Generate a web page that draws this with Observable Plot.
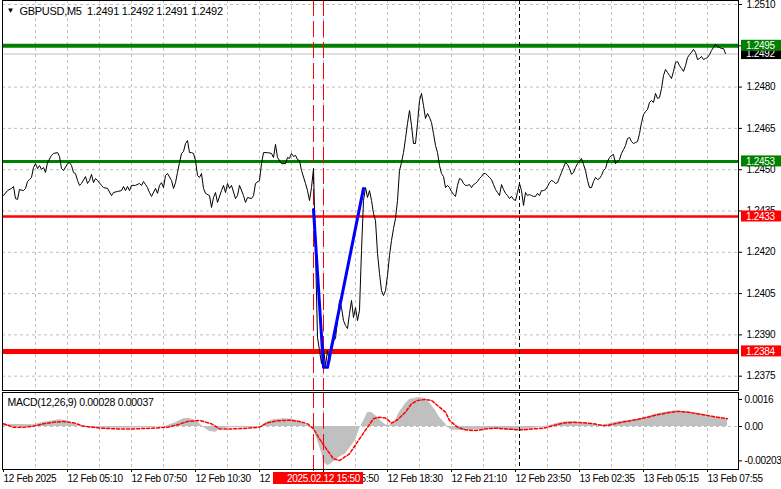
<!DOCTYPE html>
<html><head><meta charset="utf-8">
<script src="https://cdn.jsdelivr.net/npm/d3@7"></script>
<script src="https://cdn.jsdelivr.net/npm/@observablehq/plot@0.6"></script>
<style>
html,body{margin:0;padding:0;background:#fff;overflow:hidden;}
#chart{position:relative;width:781px;height:489px;overflow:hidden;}
#chart svg{display:block;}
</style></head><body><div id="chart"></div>
<script>
const FONT = '"Liberation Sans",Arial,sans-serif';
const FONT_SIZE = 10;
const LETTER = "-0.3px";

// ---- data ----
const titleText = "GBPUSD,M5\u00a0\u00a01.2491 1.2492 1.2491 1.2492";
const macdText = "MACD(12,26,9) 0.00028 0.00037";

const priceBar = [
0,2,4,5,6,7,8,10,11,12,
13,14,15,16,17,18,19,20,21,22,
24,25,27,28,29,30,32,33,34,35,
36,37,38,39,41,42,43,44,45,46,
47,49,50,52,54,55,57,59,60,61,
62,63,64,66,68,69,70,71,72,73,
74,76,77,78,79,80,81,82,84,85,
86,87,88,89,90,91,92,93,94,95,
96,97,98,99,100,101,103,104,105,106,
107,109,110,111,112,113,114,116,117,118,
120,121,122,124,125,126,128,129,130,132,
134,135,136,137,139,141,142,143,144,145,
146,147,148,149,151,152,153,154,155,156,
157,158,159,160,161,162,163,164,166,167,
168,169,170,171,172,173,174,175,176,177,
178,179,180,181,182,183,184,185,186,187,
188,189,190,191,192,193,194,195,196,197,
198,199,200,201,202,203,204,205,206,207,
208,209,210,211,212,213,214,215,216,217,
218,219,220,221,222,223,224,225,226,227,
228,229,230,231,232,233,234,235,236,237,
238,239,240,241,242,243,244,245,246,247,
248,249,250,251,252,253,254,255,256,257,
258,259,260,261,262,263,264,265,266,267,
268,269,270,271,272,273,274,275,276,277,
278,279,280,281,282,283,284,285,286,287,
288,289,290,291,292,293,294,295,296,297,
298,299,300,301,302,303,304,305,306,307,
308,309,310,311,312,313,314,315,316,317,
318,319,320,321,322,323,324,325,326,327,
328,329,330,331,332,333,334,335,336,337,
338,339,340,341,342,343,344,345,346,347,
348,349,350,351,352,353,354,355,356,357,
358,359,360,361];

const priceClose = [
1.24406,1.24424,1.24432,1.24439,1.24395,1.24392,1.24428,1.24424,1.24432,1.24457,
1.24464,1.24472,1.24508,1.24522,1.24504,1.24515,1.24501,1.24508,1.24490,1.24526,
1.24552,1.24559,1.24562,1.24548,1.24504,1.24497,1.24522,1.24526,1.24515,1.24490,
1.24486,1.24461,1.24443,1.24450,1.24475,1.24450,1.24461,1.24483,1.24453,1.24468,
1.24461,1.24443,1.24435,1.24432,1.24406,1.24417,1.24421,1.24424,1.24439,1.24424,
1.24439,1.24424,1.24443,1.24443,1.24450,1.24443,1.24457,1.24446,1.24435,1.24417,
1.24403,1.24432,1.24414,1.24443,1.24453,1.24435,1.24479,1.24486,1.24461,1.24432,
1.24453,1.24490,1.24526,1.24559,1.24566,1.24595,1.24606,1.24562,1.24562,1.24559,
1.24533,1.24479,1.24472,1.24486,1.24432,1.24414,1.24406,1.24363,1.24399,1.24417,
1.24381,1.24424,1.24443,1.24417,1.24450,1.24432,1.24443,1.24395,1.24406,1.24443,
1.24406,1.24381,1.24399,1.24395,1.24406,1.24450,1.24461,1.24522,1.24562,1.24562,
1.24559,1.24544,1.24592,1.24544,1.24522,1.24522,1.24544,1.24541,1.24559,1.24548,
1.24552,1.24537,1.24533,1.24497,1.24450,1.24424,1.24388,1.24435,1.24504,1.24207,
1.23891,1.23843,1.23796,1.23854,1.23789,1.23843,1.23800,1.23869,1.23887,1.23952,
1.24025,1.23999,1.23952,1.23934,1.23923,1.23978,1.24025,1.23963,1.23999,1.23952,
1.23989,1.24207,1.24388,1.24435,1.24399,1.24424,1.24388,1.24341,1.24315,1.24196,
1.24123,1.24061,1.24043,1.24061,1.24116,1.24188,1.24243,1.24286,1.24323,1.24388,
1.24497,1.24526,1.24562,1.24613,1.24668,1.24715,1.24661,1.24595,1.24595,1.24668,
1.24751,1.24777,1.24733,1.24686,1.24704,1.24690,1.24671,1.24631,1.24588,1.24562,
1.24515,1.24486,1.24475,1.24435,1.24443,1.24435,1.24421,1.24410,1.24403,1.24443,
1.24468,1.24464,1.24450,1.24443,1.24443,1.24446,1.24435,1.24446,1.24450,1.24457,
1.24468,1.24475,1.24486,1.24486,1.24479,1.24472,1.24464,1.24446,1.24428,1.24417,
1.24406,1.24446,1.24428,1.24414,1.24406,1.24395,1.24403,1.24392,1.24388,1.24417,
1.24450,1.24424,1.24370,1.24417,1.24406,1.24410,1.24406,1.24403,1.24403,1.24414,
1.24406,1.24424,1.24424,1.24428,1.24439,1.24453,1.24461,1.24457,1.24450,1.24453,
1.24472,1.24490,1.24508,1.24526,1.24519,1.24504,1.24483,1.24490,1.24508,1.24522,
1.24530,1.24541,1.24519,1.24497,1.24461,1.24435,1.24435,1.24457,1.24472,1.24464,
1.24468,1.24479,1.24497,1.24504,1.24530,1.24544,1.24552,1.24555,1.24522,1.24530,
1.24537,1.24559,1.24573,1.24588,1.24613,1.24617,1.24602,1.24595,1.24599,1.24602,
1.24631,1.24671,1.24700,1.24711,1.24719,1.24744,1.24751,1.24744,1.24777,1.24759,
1.24762,1.24795,1.24842,1.24864,1.24853,1.24842,1.24831,1.24857,1.24889,1.24893,
1.24878,1.24868,1.24857,1.24878,1.24907,1.24918,1.24926,1.24937,1.24926,1.24900,
1.24904,1.24911,1.24900,1.24904,1.24907,1.24918,1.24933,1.24944,1.24955,1.24947,
1.24944,1.24940,1.24940,1.24922];

const zigzagBar = [155, 160, 162, 180];
const zigzagPrice = [1.24355, 1.23782, 1.23782, 1.24432];

const levelPrice = [1.2495, 1.2453, 1.2433, 1.2384];
const levelLabel = ["1.2495", "1.2453", "1.2433", "1.2384"];
const currentPrice = 1.2492;
const currentLabel = "1.2492";

const priceTicks = [1.2375, 1.2390, 1.2405, 1.2420, 1.2435, 1.2450, 1.2465, 1.2480, 1.2495, 1.2510];

const gridBars = [16,32,48,64,80,96,112,128,144,160,176,192,208,224,240,256,272,288,304,320,336,352];
const timeTickBars = [0,32,64,96,128,160,192,224,256,288,320,352];
const timeTickLabels = ["12 Feb 2025","12 Feb 05:10","12 Feb 07:50","12 Feb 10:30","12 Feb 13:10","12 Feb 15:50",
  "12 Feb 18:30","12 Feb 21:10","12 Feb 23:50","13 Feb 02:35","13 Feb 05:15","13 Feb 07:55"];

const crossBars = [155, 160];
const crossLabel = "2025.02.12 15:50";
const cursorBar = 258;

const macdBar = [0,8,15,20,25,28,32,35,38,43,53,63,73,81,86,90,93,97,100,103,106,108,113,123,128,131,135,140,145,148,
151,153,155,157,159,160,162,163,166,168,171,173,176,178,181,182,184,187,189,191,193,196,198,201,203,206,208,211,213,216,
218,221,222,224,228,233,238,243,248,253,258,263,268,273,278,283,288,293,298,301,306,311,316,321,326,331,336,341,346,351,356,360,362];
const macdValue = [0.00012,0.00012,0.00010,0.00025,0.00034,0.00040,0.00034,0.00016,0.00002,-0.00008,
-0.00010,-0.00010,-0.00006,0.00002,0.00022,0.00046,0.00049,0.00030,-0.00004,-0.00030,
-0.00034,-0.00018,-0.00008,-0.00008,-0.00004,0.00022,0.00040,0.00046,0.00042,0.00030,
0.00010,0.00000,-0.00014,-0.00083,-0.00152,-0.00211,-0.00231,-0.00227,-0.00201,-0.00182,
-0.00162,-0.00132,-0.00083,-0.00014,0.00055,0.00081,0.00085,0.00055,0.00030,0.00010,
0.00006,0.00036,0.00085,0.00134,0.00160,0.00167,0.00172,0.00164,0.00140,0.00095,
0.00055,0.00016,-0.00004,-0.00020,-0.00024,-0.00024,-0.00018,-0.00014,-0.00018,-0.00022,
-0.00028,-0.00014,-0.00006,0.00006,0.00022,0.00030,0.00025,0.00016,0.00006,0.00010,
0.00025,0.00034,0.00041,0.00055,0.00073,0.00085,0.00093,0.00089,0.00081,0.00069,
0.00055,0.00046,0.00040];

const signalBar = [0,5,10,15,20,25,30,35,40,49,57,65,74,82,87,92,98,104,108,115,122,128,132,137,143,148,152,155,158,162,
165,168,173,178,182,185,188,191,194,197,201,204,207,211,214,217,221,223,227,231,236,241,246,251,256,260,265,270,275,280,
285,290,295,300,302,307,312,317,322,327,332,337,342,347,352,357,362];
const signalValue = [0.00016,-0.00004,-0.00004,0.00002,0.00016,0.00025,0.00030,0.00022,0.00002,-0.00010,
-0.00014,-0.00014,-0.00010,-0.00004,0.00010,0.00030,0.00036,0.00016,-0.00014,-0.00014,
-0.00010,-0.00004,0.00022,0.00034,0.00037,0.00030,0.00016,-0.00014,-0.00073,-0.00142,
-0.00191,-0.00201,-0.00162,-0.00073,-0.00004,0.00046,0.00055,0.00050,0.00020,0.00040,
0.00085,0.00134,0.00154,0.00160,0.00154,0.00124,0.00085,0.00036,-0.00004,-0.00020,
-0.00024,-0.00014,-0.00010,-0.00014,-0.00018,-0.00020,-0.00014,-0.00010,0.00006,0.00020,
0.00025,0.00022,0.00016,0.00006,0.00006,0.00020,0.00031,0.00041,0.00055,0.00069,
0.00081,0.00089,0.00085,0.00075,0.00065,0.00055,0.00046];

const macdTicks = [0.0016, 0, -0.00203];
const macdTickLabels = ["0.0016", "0.00", "-0.00203"];

// ---- tables ----
const priceData = priceBar.map((b, i) => ({bar: b, close: priceClose[i]}));
const zigzag = zigzagBar.map((b, i) => ({bar: b, price: zigzagPrice[i]}));
const macdData = macdBar.map((b, i) => ({bar: b, value: macdValue[i]}));
const signalData = signalBar.map((b, i) => ({bar: b, value: signalValue[i]}));
const timeLabelMap = new Map(timeTickBars.map((b, i) => [b, timeTickLabels[i]]));
const macdLabelMap = new Map(macdTicks.map((v, i) => [v, macdTickLabels[i]]));

const levelColors = ["#008000", "#008000", "#ff0000", "#ff0000"];
const levelWidths = [4, 3, 2.5, 5];
const GRID = "#c0c0c0";
const xDomain = [-0.5, 367.5];
const STYLE = {fontFamily: FONT, fontSize: FONT_SIZE + "px", letterSpacing: LETTER, background: "white", color: "black", overflow: "visible"};

const main = Plot.plot({
  width: 781, height: 391,
  marginLeft: 2, marginRight: 43, marginTop: 0, marginBottom: 1,
  x: {domain: xDomain, axis: null},
  y: {domain: [1.23698, 1.251145]},
  style: STYLE,
  marks: [
    Plot.ruleX(gridBars, {stroke: GRID, strokeDasharray: "3,3"}),
    Plot.ruleY(priceTicks, {stroke: GRID, strokeDasharray: "3,3"}),
    Plot.ruleY([currentPrice], {stroke: "#c0c0c0"}),
    ...levelPrice.map((p, i) => Plot.ruleY([p], {stroke: levelColors[i], strokeWidth: levelWidths[i]})),
    Plot.ruleX(crossBars, {stroke: "#ff0000", strokeDasharray: "16,5"}),
    Plot.ruleX([cursorBar], {stroke: "black", strokeDasharray: "4,3"}),
    Plot.line(priceData, {x: "bar", y: "close", stroke: "black", strokeWidth: 1}),
    Plot.line(zigzag, {x: "bar", y: "price", stroke: "#0000ff", strokeWidth: 3}),
    Plot.frame({stroke: "black"}),
    Plot.axisY({ticks: priceTicks, anchor: "right", tickSize: 3, tickPadding: 5, tickFormat: d => d.toFixed(4), label: null}),
    Plot.text(["\u25BC"], {text: d => d, frameAnchor: "top-left", dx: 4, dy: 7, lineAnchor: "top", fontSize: 8, textAnchor: "start"}),
    Plot.text([titleText], {text: d => d, frameAnchor: "top-left", dx: 17, dy: 7, lineAnchor: "top", textAnchor: "start",
      fontSize: 11, letterSpacing: "-0.1px"})
  ]
});

const macd = Plot.plot({
  width: 781, height: 98,
  marginLeft: 2, marginRight: 43, marginTop: 1, marginBottom: 20,
  x: {domain: xDomain},
  y: {domain: [-0.00254, 0.00201]},
  style: STYLE,
  marks: [
    Plot.ruleX(gridBars, {stroke: GRID, strokeDasharray: "3,3"}),
    Plot.ruleY([0], {stroke: GRID, strokeDasharray: "3,3"}),
    Plot.areaY(macdData, {x: "bar", y: "value", fill: "#c0c0c0"}),
    Plot.line(signalData, {x: "bar", y: "value", stroke: "#ff0000", strokeDasharray: "3,2"}),
    Plot.ruleX(crossBars, {stroke: "#ff0000", strokeDasharray: "16,5", insetBottom: -4}),
    Plot.ruleX([cursorBar], {stroke: "black", strokeDasharray: "4,3"}),
    Plot.frame({stroke: "black"}),
    Plot.axisY({ticks: macdTicks, anchor: "right", tickSize: 3, tickPadding: 3, tickFormat: d => macdLabelMap.get(d), label: null}),
    Plot.axisX({ticks: timeTickBars, anchor: "bottom", tickSize: 3, tickPadding: 2, textAnchor: "start", tickFormat: d => timeLabelMap.get(d), label: null}),
    Plot.text([macdText], {text: d => d, frameAnchor: "top-left", dx: 5, dy: 6, lineAnchor: "top", textAnchor: "start",
      fontSize: 10.5, letterSpacing: "-0.2px"})
  ]
});

// ---- price labels on the right scale ----
const ys = main.scale("y");
const gm = d3.select(main).append("g")
  .attr("font-family", FONT).attr("font-size", FONT_SIZE).attr("letter-spacing", LETTER).attr("text-anchor", "start");
const boxes = [{v: currentPrice, t: currentLabel, c: "#000000"}]
  .concat(levelPrice.map((v, i) => ({v, t: levelLabel[i], c: levelColors[i]})));
const order = [0, 2, 1, 3, 4];
order.forEach(k => {
  const b = boxes[k];
  const y = ys.apply(b.v);
  gm.append("rect").attr("x", 741).attr("y", y - 5.5).attr("width", 40).attr("height", 11).attr("fill", b.c);
  gm.append("text").attr("x", 746).attr("y", y).attr("dy", "0.36em").attr("fill", "white").text(b.t);
});

// ---- crosshair date label ----
const xs = macd.scale("x");
const cx = xs.apply(crossBars[1]);
const gx = d3.select(macd).append("g")
  .attr("font-family", FONT).attr("font-size", FONT_SIZE).attr("letter-spacing", LETTER).attr("text-anchor", "start");
gx.append("rect").attr("x", cx - 50).attr("y", 81).attr("width", 90).attr("height", 12).attr("fill", "#ff0000");
gx.append("text").attr("x", cx - 36).attr("y", 87).attr("dy", "0.36em").attr("fill", "white").text(crossLabel);

const host = document.getElementById("chart");
host.appendChild(main);
host.appendChild(macd);
</script>
</body></html>
